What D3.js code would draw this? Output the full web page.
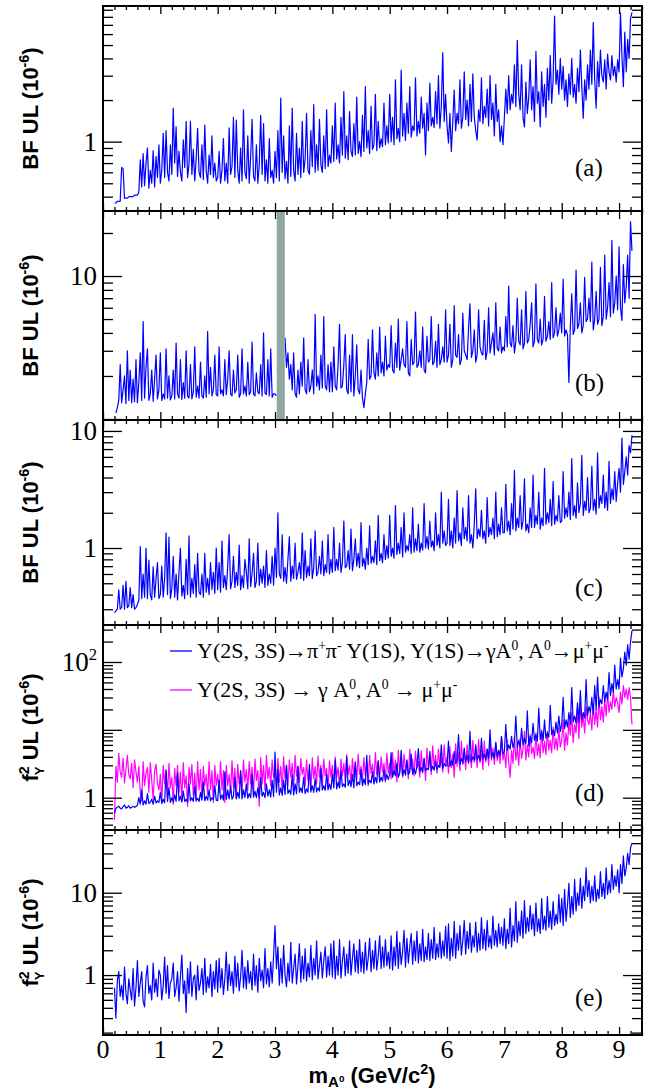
<!DOCTYPE html>
<html lang="en">
<head>
<meta charset="UTF-8">
<title>A0 upper limits vs mass</title>
<script src="https://d3js.org/d3.v7.min.js"></script>
<style>
  body { margin: 0; background: #fff; }
  svg { display: block; }
  .tick-label { font-family: "Liberation Serif", "Times New Roman", serif; font-size: 27px; fill: #000; }
  .xlab { font-size: 26px; }
  .ytitle, .xtitle { font-family: "Liberation Sans", Arial, sans-serif; font-weight: bold; font-size: 22px; fill: #000; }
  .legend { font-family: "Liberation Serif", "Times New Roman", serif; font-size: 22px; fill: #000; }
  .tag { font-family: "Liberation Serif", "Times New Roman", serif; font-size: 25px; fill: #000; }
  .axis line { stroke: #000; stroke-width: 1.3; }
</style>
</head>
<body>
<svg id="chart" width="648" height="1089"></svg>
<script>
// mass grid 0.200 .. 9.225 GeV/c2 in 0.025 steps (362 points)
// rows below: 0.200-0.975 (32 values), then 20 values per half GeV, last row 9.000-9.225 (10 values)
const masses = d3.range(362).map(i => +(0.2 + 0.025 * i).toFixed(3));

// (a) BF UL, 10^-6
const bfA = [
  0.36, 0.36, 0.37, 0.37, 0.37, 0.65, 0.64, 0.39, 0.39, 0.39, 0.40, 0.40, 0.40, 0.40, 0.41, 0.41,
  0.41, 0.43, 0.74, 0.47, 0.82, 0.48, 0.70, 0.90, 0.46, 0.62, 0.50, 0.86, 0.47, 0.78, 0.55, 0.95,
  0.50, 0.62, 1.15, 0.55, 1.20, 0.60, 0.52, 0.95, 0.58, 1.75, 0.70, 1.28, 0.56, 0.85, 0.60, 0.52, 1.03, 0.65, 1.40, 0.55,
  0.68, 1.40, 0.58, 0.88, 0.52, 0.75, 1.25, 0.60, 0.55, 0.95, 0.53, 1.32, 0.62, 0.50, 0.80, 0.58, 1.10, 0.55, 0.70, 0.52,
  0.55, 0.85, 0.50, 0.62, 1.05, 0.52, 0.70, 0.50, 1.26, 0.58, 0.66, 1.50, 0.55, 1.43, 0.62, 0.50, 0.90, 0.52, 1.70, 0.60,
  0.54, 1.10, 0.50, 0.78, 1.45, 0.56, 0.52, 0.95, 0.50, 0.68, 1.55, 0.58, 1.35, 0.52, 0.74, 0.50, 1.05, 0.55, 0.62, 0.50,
  0.85, 0.55, 1.20, 0.52, 2.07, 0.60, 1.10, 0.54, 0.72, 0.50, 1.30, 0.56, 1.75, 0.62, 0.52, 1.15, 0.58, 0.90, 0.55, 1.40,
  0.60, 0.75, 1.60, 0.62, 0.58, 1.20, 0.66, 1.85, 0.60, 0.95, 0.62, 1.45, 0.68, 0.60, 1.10, 0.64, 1.70, 0.66, 0.80, 0.70,
  1.30, 0.72, 1.90, 0.75, 0.95, 0.70, 1.50, 0.80, 2.30, 0.76, 1.10, 0.74, 1.65, 0.85, 0.78, 1.35, 0.80, 2.10, 0.82, 1.00,
  0.78, 1.55, 0.85, 2.50, 0.90, 1.20, 0.82, 1.80, 0.88, 0.95, 2.20, 0.86, 1.40, 0.90, 1.05, 0.92, 1.90, 0.95, 1.30, 0.98,
  2.20, 1.00, 1.50, 0.95, 2.80, 1.05, 1.25, 1.00, 3.30, 1.10, 1.60, 1.02, 1.90, 1.15, 2.50, 1.08, 1.30, 1.20, 2.90, 1.10,
  1.40, 1.15, 2.10, 1.25, 1.60, 0.80, 1.90, 1.20, 2.65, 1.30, 1.50, 1.27, 2.30, 1.35, 3.00, 1.25, 1.80, 4.40, 1.40, 2.20,
  1.30, 0.98, 1.60, 0.85, 1.40, 2.36, 1.20, 1.60, 1.35, 2.80, 1.25, 1.50, 3.20, 1.45, 2.00, 1.30, 2.60, 1.40, 3.10, 1.50,
  1.20, 1.03, 1.70, 1.40, 2.90, 1.35, 1.80, 1.50, 2.40, 1.30, 3.00, 1.45, 1.90, 1.10, 2.60, 1.40, 1.70, 1.00, 1.30, 0.95,
  1.50, 2.40, 1.60, 3.00, 1.70, 2.20, 1.90, 3.60, 1.80, 5.40, 2.20, 1.70, 3.60, 1.50, 1.28, 2.70, 1.60, 2.10, 3.90, 1.70,
  2.50, 1.40, 4.50, 1.90, 2.30, 1.28, 3.20, 1.80, 2.60, 1.50, 3.40, 2.00, 4.20, 1.90, 2.80, 8.10, 2.60, 3.30, 2.20, 4.00,
  2.40, 3.50, 2.00, 2.80, 1.80, 3.10, 2.20, 4.00, 2.10, 2.60, 1.90, 3.40, 2.30, 4.60, 2.50, 1.48, 2.80, 2.00, 3.60, 2.40,
  4.60, 2.60, 7.30, 2.80, 1.75, 3.80, 2.50, 4.60, 3.00, 2.70, 3.90, 2.40, 4.30, 3.20, 2.80, 4.20, 3.00, 3.50, 2.70, 3.90,
  3.20, 8.50, 4.20, 2.50, 6.20, 3.20, 5.50, 4.00, 7.80, 8.60
];

// (b) BF UL, 10^-6 (J/psi region vetoed)
const bfB = [
  null, 1.10, 1.20, 1.35, 2.40, 1.30, 1.60, 2.00, 1.28, 3.00, 1.35, 2.20, 1.30, 1.90, 1.32, 2.60,
  1.30, 1.80, 2.90, 1.35, 4.80, 1.40, 2.30, 3.10, 1.35, 1.50, 2.20, 1.33, 1.90, 2.80, 1.38, 1.60,
  2.90, 1.35, 1.50, 1.38, 3.10, 1.40, 2.00, 1.36, 1.45, 2.20, 1.38, 3.40, 1.50, 1.40, 2.60, 1.37, 1.80, 1.40, 3.00, 1.45,
  1.40, 2.40, 1.38, 1.55, 3.20, 1.42, 1.70, 1.40, 2.50, 1.45, 1.40, 2.00, 1.42, 4.10, 1.50, 2.30, 1.45, 1.60, 2.80, 1.48,
  1.45, 3.20, 1.50, 1.60, 1.45, 2.60, 1.48, 1.90, 3.00, 1.50, 1.45, 2.20, 1.52, 1.60, 2.80, 1.42, 1.50, 3.10, 1.50, 1.70,
  1.45, 2.50, 1.48, 1.55, 3.45, 1.50, 1.45, 2.10, 1.55, 1.50, 2.40, 1.45, 4.00, 1.52, 1.48, 2.60, 1.45, 3.10, 1.42, 1.50,
  1.50, 1.45, null, null, null, null, null, 3.70, 2.30, 2.90, 1.90, 2.40, 1.60, 2.90, 1.50, 1.42, 2.20, 1.50, 2.50, 1.70,
  3.70, 1.60, 1.50, 2.60, 1.55, 1.70, 2.20, 1.50, 5.40, 1.70, 2.00, 1.60, 2.80, 1.65, 5.20, 1.70, 1.60, 2.40, 1.55, 2.50,
  1.55, 3.20, 1.70, 1.60, 2.40, 4.60, 1.65, 1.70, 2.40, 3.90, 1.60, 1.50, 2.80, 1.55, 3.90, 1.45, 2.00, 3.30, 1.60, 1.50,
  2.20, 1.40, 1.20, 1.50, 1.80, 3.60, 1.90, 2.00, 4.20, 2.10, 1.90, 2.90, 2.00, 4.40, 2.10, 2.50, 2.00, 3.80, 2.20, 2.40,
  2.30, 4.50, 2.20, 2.10, 3.40, 2.30, 5.00, 2.20, 2.60, 3.10, 2.40, 2.30, 4.80, 2.10, 2.00, 3.60, 2.40, 2.50, 5.60, 2.30,
  2.40, 3.00, 2.30, 4.40, 2.20, 2.10, 3.80, 2.50, 2.60, 5.20, 2.40, 2.50, 3.50, 2.30, 4.60, 2.40, 2.60, 3.20, 2.50, 5.80,
  2.50, 2.80, 4.60, 2.30, 2.60, 6.20, 2.80, 2.70, 3.90, 2.40, 2.60, 5.50, 3.00, 2.80, 2.60, 4.30, 6.40, 2.70, 3.00, 4.20,
  2.50, 2.80, 5.80, 3.20, 2.90, 2.80, 4.90, 2.60, 3.00, 6.00, 2.90, 3.40, 4.00, 2.80, 6.50, 3.10, 3.00, 4.40, 2.90, 3.20,
  3.00, 5.20, 3.20, 8.50, 3.40, 3.20, 4.50, 2.90, 3.50, 7.00, 3.50, 3.30, 5.80, 3.10, 3.40, 7.80, 3.40, 3.60, 4.60, 6.50,
  3.20, 3.50, 8.80, 3.60, 3.40, 5.00, 3.30, 3.60, 7.20, 3.50, 3.80, 4.80, 3.60, 9.00, 3.70, 4.00, 6.00, 3.80, 4.20, 5.50,
  4.00, 9.50, 3.80, 4.20, 3.90, 1.80, 4.40, 7.50, 3.90, 4.20, 11.0, 4.30, 4.60, 6.50, 4.00, 4.50, 9.80, 4.80, 5.00, 7.00,
  4.80, 12.5, 4.20, 5.00, 7.80, 4.60, 5.00, 11.5, 4.50, 5.20, 14.0, 5.00, 6.00, 9.00, 5.20, 17.8, 5.50, 6.50, 10.0, 5.80,
  16.0, 6.00, 4.90, 12.0, 6.50, 8.50, 14.0, 7.00, 24.0, 15.0
];

// (c) BF UL, 10^-6
const bfC = [
  0.28, 0.29, 0.30, 0.44, 0.30, 0.31, 0.48, 0.30, 0.52, 0.31, 0.32, 0.46, 0.31, 0.40, 0.30, 0.31,
  0.33, 0.36, 1.03, 0.37, 0.60, 0.38, 1.00, 0.37, 0.79, 0.40, 0.36, 0.69, 0.38, 0.55, 0.75, 0.37,
  0.40, 0.70, 0.38, 0.55, 1.35, 0.40, 1.24, 0.37, 0.45, 0.85, 0.38, 0.60, 0.36, 0.62, 1.00, 0.39, 0.48, 0.37, 0.80, 0.40,
  1.27, 0.38, 0.55, 0.41, 0.72, 0.38, 0.90, 0.42, 0.40, 0.60, 0.38, 0.90, 0.42, 0.55, 0.40, 0.75, 0.44, 0.62, 0.41, 1.00,
  0.44, 0.75, 0.42, 1.15, 0.46, 0.58, 0.44, 0.70, 1.30, 0.45, 0.52, 0.85, 0.46, 0.62, 0.48, 1.06, 0.44, 0.58, 0.46, 0.80,
  0.62, 0.45, 1.20, 0.47, 0.60, 0.90, 0.46, 0.52, 1.10, 0.48, 0.66, 0.50, 0.70, 0.46, 0.95, 0.48, 0.60, 0.50, 0.85, 0.48,
  1.00, 0.56, 2.00, 0.60, 0.55, 1.30, 0.52, 0.68, 0.50, 0.80, 1.25, 0.52, 0.70, 0.55, 1.10, 0.54, 0.62, 0.75, 0.55, 1.35,
  0.53, 0.95, 0.56, 0.70, 0.58, 1.20, 0.55, 0.68, 1.40, 0.58, 0.62, 0.85, 0.60, 1.15, 0.58, 0.72, 0.62, 1.30, 0.60, 0.80,
  0.62, 1.50, 0.64, 0.80, 0.65, 1.10, 0.62, 0.75, 1.70, 0.68, 0.70, 0.95, 0.66, 1.45, 0.64, 0.80, 1.20, 0.70, 0.90, 0.68,
  1.65, 0.70, 0.82, 0.66, 1.00, 0.72, 1.55, 0.74, 0.85, 0.75, 1.15, 0.72, 1.90, 0.78, 0.90, 0.75, 1.30, 0.80, 1.05, 0.82,
  1.90, 0.85, 1.00, 0.82, 2.30, 0.88, 1.10, 0.90, 1.50, 0.84, 2.00, 0.92, 1.05, 0.95, 1.30, 0.90, 2.20, 0.92, 1.20, 0.95,
  1.60, 0.92, 1.10, 0.96, 2.40, 1.00, 1.25, 0.98, 1.70, 1.02, 1.15, 0.95, 2.00, 1.05, 1.30, 1.00, 3.00, 1.10, 1.40, 1.05,
  1.10, 2.60, 1.05, 1.40, 1.00, 1.80, 1.10, 3.10, 1.15, 1.35, 1.05, 2.20, 1.20, 1.50, 1.15, 2.80, 1.10, 1.30, 1.00, 1.60,
  3.20, 1.20, 1.45, 1.25, 2.10, 1.20, 1.40, 1.10, 2.70, 1.25, 1.50, 1.30, 1.80, 1.20, 3.00, 1.25, 1.60, 1.30, 2.20, 1.35,
  1.35, 3.50, 1.40, 1.70, 1.30, 2.40, 1.45, 4.60, 1.40, 1.80, 1.50, 2.80, 1.45, 1.70, 3.90, 1.40, 1.60, 1.35, 2.20, 1.50,
  4.20, 1.50, 1.90, 1.60, 3.00, 1.45, 1.80, 1.55, 4.80, 1.60, 2.00, 1.65, 2.60, 1.55, 3.70, 1.60, 1.90, 1.70, 2.80, 1.65,
  1.70, 4.50, 1.80, 2.20, 1.85, 3.00, 1.75, 5.80, 1.90, 2.30, 1.80, 3.60, 2.00, 2.40, 6.20, 1.90, 2.50, 2.10, 4.00, 2.00,
  2.20, 5.00, 2.10, 2.60, 1.95, 6.50, 2.20, 2.80, 2.40, 4.20, 2.20, 3.00, 2.10, 5.50, 2.40, 3.20, 2.60, 4.50, 2.50, 3.60,
  4.80, 3.00, 8.70, 3.50, 4.50, 6.00, 4.20, 7.50, 6.50, 9.20
];

// (d) f^2 UL, 10^-6 : this analysis (blue) and the direct Y(2S,3S) -> gamma A0 search (pink)
const fBlue = [
  0.59, 0.70, 0.72, 0.75, 0.70, 0.68, 0.74, 0.78, 0.70, 0.72, 0.76, 0.70, 0.72, 0.75, 0.72, 0.74,
  0.78, 1.00, 0.80, 1.30, 0.78, 0.90, 0.80, 1.15, 0.82, 0.86, 0.95, 0.80, 1.05, 0.84, 0.90, 0.85,
  1.20, 0.82, 0.95, 0.84, 2.50, 0.88, 1.40, 0.85, 1.00, 0.86, 1.10, 0.88, 2.30, 0.90, 1.05, 0.86, 1.25, 0.88, 0.95, 0.86,
  1.60, 0.90, 1.00, 0.88, 1.45, 0.90, 0.98, 0.88, 1.20, 0.92, 1.70, 0.90, 1.05, 0.92, 1.30, 0.90, 1.00, 0.94, 1.50, 0.92,
  0.90, 1.80, 0.95, 1.10, 0.92, 2.40, 0.94, 1.30, 0.96, 1.50, 0.95, 1.05, 2.00, 0.96, 1.20, 0.98, 2.50, 0.96, 1.30, 1.00,
  1.60, 0.98, 1.15, 1.00, 2.20, 1.02, 1.25, 1.00, 1.40, 0.98, 2.00, 1.05, 1.20, 1.00, 1.60, 1.05, 1.30, 1.02, 1.80, 1.04,
  4.70, 1.20, 2.60, 1.10, 1.40, 1.08, 1.80, 1.12, 3.00, 1.15, 1.30, 1.12, 2.20, 1.10, 1.60, 1.15, 2.90, 1.20, 1.40, 1.18,
  2.00, 1.15, 1.35, 1.20, 3.10, 1.25, 1.50, 1.20, 1.90, 1.22, 1.40, 1.25, 2.70, 1.30, 1.50, 1.28, 2.20, 1.30, 1.60, 1.32,
  2.20, 1.40, 3.60, 1.35, 1.70, 1.40, 2.50, 1.45, 1.60, 1.42, 4.00, 1.50, 1.80, 1.45, 2.20, 1.40, 3.30, 1.50, 1.70, 1.55,
  2.60, 1.50, 1.90, 1.55, 4.20, 1.60, 1.80, 1.65, 2.40, 1.60, 2.00, 1.65, 3.50, 1.70, 2.00, 1.75, 2.60, 1.80, 2.20, 1.85,
  2.20, 4.60, 2.00, 2.50, 2.10, 3.20, 2.00, 2.30, 5.00, 2.10, 2.60, 2.15, 3.60, 2.20, 2.40, 4.40, 2.20, 2.70, 2.25, 2.90,
  5.30, 2.40, 2.80, 2.35, 3.80, 2.50, 2.70, 2.60, 4.80, 2.50, 2.90, 2.55, 3.40, 2.60, 3.00, 2.80, 6.00, 2.70, 3.20, 2.90,
  3.00, 6.80, 2.90, 3.50, 3.00, 4.80, 3.20, 3.60, 8.50, 3.10, 3.80, 3.20, 5.40, 3.40, 4.20, 3.30, 9.50, 3.40, 4.00, 3.60,
  6.00, 3.60, 4.20, 3.50, 7.50, 3.70, 4.40, 3.60, 5.20, 3.80, 10.0, 3.90, 4.60, 3.80, 6.50, 4.00, 5.00, 4.20, 8.00, 4.40,
  4.80, 12.0, 5.00, 6.00, 5.20, 8.00, 5.50, 6.50, 16.0, 5.40, 7.00, 5.60, 10.5, 6.00, 7.50, 6.20, 19.0, 5.80, 8.00, 6.40,
  12.5, 7.00, 8.50, 6.80, 21.0, 7.20, 9.50, 7.00, 14.0, 7.50, 9.00, 7.80, 23.0, 8.50, 10.0, 8.20, 13.0, 9.00, 16.0, 9.50,
  12.0, 30.0, 10.5, 14.0, 11.0, 18.0, 12.0, 42.0, 13.0, 16.0, 12.5, 25.0, 13.0, 38.0, 14.0, 18.0, 15.0, 55.0, 16.0, 22.0,
  18.0, 30.0, 17.0, 45.0, 20.0, 60.0, 22.0, 28.0, 24.0, 45.0, 26.0, 36.0, 28.0, 70.0, 32.0, 48.0, 36.0, 90.0, 40.0, 55.0,
  40.0, 114, 60.0, 80.0, 140, 90.0, 180, 110, 200, 290
];
const fPink = [
  0.47, 2.90, 1.70, 4.50, 2.40, 2.00, 3.80, 1.65, 2.60, 4.20, 2.20, 1.90, 3.20, 1.40, 3.60, 2.40,
  1.70, 2.90, 1.20, 0.90, 3.40, 1.50, 2.30, 2.80, 1.20, 3.30, 1.80, 0.95, 2.50, 3.10, 1.60, 1.30,
  2.20, 0.85, 3.00, 1.60, 2.60, 1.10, 3.20, 1.40, 2.00, 0.80, 2.70, 1.50, 3.00, 1.20, 2.40, 0.90, 3.30, 1.40, 2.10, 0.75,
  2.80, 1.60, 3.10, 1.10, 2.30, 0.90, 3.40, 1.30, 2.60, 1.00, 2.90, 1.50, 2.20, 1.10, 3.40, 1.30, 2.50, 0.85, 3.00, 1.50,
  2.20, 1.20, 3.40, 1.30, 2.50, 0.85, 3.00, 1.50, 2.20, 1.20, 3.50, 1.40, 2.70, 1.00, 3.10, 1.60, 2.40, 1.20, 3.60, 1.70,
  2.60, 1.30, 3.40, 1.60, 2.80, 1.10, 3.70, 1.80, 2.50, 0.75, 3.90, 1.60, 3.00, 1.30, 4.20, 1.90, 2.80, 1.50, 3.60, 2.00,
  2.60, 1.40, 3.80, 1.70, 2.90, 1.30, 4.00, 1.90, 3.00, 1.50, 3.60, 2.00, 3.20, 1.40, 4.20, 2.10, 2.90, 1.70, 3.80, 2.20,
  2.80, 1.50, 3.60, 1.80, 2.60, 1.20, 3.90, 1.90, 2.90, 1.60, 4.10, 2.00, 3.00, 1.50, 3.70, 2.10, 2.70, 1.40, 3.50, 2.00,
  3.00, 1.60, 4.00, 2.00, 2.80, 1.40, 3.70, 2.10, 3.20, 1.70, 4.30, 2.20, 3.00, 1.60, 3.80, 2.00, 3.40, 1.80, 4.40, 2.20,
  2.90, 1.70, 3.90, 2.10, 3.20, 1.50, 4.20, 2.30, 3.10, 1.80, 4.60, 2.20, 3.50, 1.90, 4.00, 2.40, 3.20, 1.70, 4.50, 2.30,
  3.20, 1.90, 4.60, 2.30, 3.60, 1.70, 5.00, 2.40, 3.80, 2.00, 4.40, 2.50, 3.50, 1.90, 5.20, 2.60, 3.70, 2.10, 4.80, 2.70,
  3.40, 2.00, 4.90, 2.50, 3.80, 1.80, 5.40, 2.60, 4.00, 2.20, 5.80, 2.80, 4.20, 2.30, 5.20, 2.90, 3.90, 2.40, 6.00, 3.00,
  4.00, 2.30, 5.60, 2.80, 4.40, 2.00, 6.20, 2.90, 4.60, 2.50, 6.80, 3.10, 4.80, 2.60, 6.00, 3.20, 4.30, 2.80, 7.00, 3.30,
  4.60, 2.80, 7.20, 3.30, 5.00, 2.60, 6.80, 3.40, 5.20, 3.00, 7.50, 3.60, 5.40, 3.10, 6.60, 3.50, 5.00, 3.20, 7.80, 3.60,
  4.60, 2.80, 7.20, 3.30, 2.00, 5.00, 3.20, 8.00, 3.60, 5.50, 3.00, 7.50, 3.80, 5.20, 9.50, 3.60, 6.00, 4.00, 8.50, 4.50,
  5.50, 3.80, 9.00, 4.20, 6.20, 3.90, 10.0, 4.60, 6.80, 4.30, 9.50, 5.00, 7.00, 4.60, 11.0, 5.20, 7.50, 5.00, 10.5, 5.60,
  7.00, 14.0, 5.00, 9.00, 6.00, 13.0, 8.40, 18.0, 6.50, 12.0, 9.00, 21.0, 7.50, 25.0, 11.0, 16.0, 9.00, 22.0, 14.0, 12.0,
  18.0, 10.0, 24.0, 12.0, 20.0, 11.0, 30.0, 14.0, 22.0, 13.0, 28.0, 16.0, 35.0, 18.0, 26.0, 20.0, 38.0, 22.0, 30.0, 25.0,
  18.0, 36.0, 24.0, 45.0, 30.0, 40.0, 28.0, 42.0, 30.0, 12.0
];

// (e) f^2 UL, 10^-6
const fE = [
  0.70, 0.30, 0.85, 1.10, 0.55, 0.75, 0.50, 1.25, 0.60, 0.45, 0.90, 0.65, 0.50, 1.20, 0.42, 0.70,
  1.50, 0.55, 0.80, 1.10, 0.48, 0.41, 0.95, 1.30, 0.60, 0.75, 0.50, 1.40, 0.62, 0.90, 0.55, 1.15,
  1.00, 0.50, 0.75, 1.65, 0.60, 1.30, 0.52, 0.80, 0.90, 1.40, 0.55, 0.70, 1.10, 0.48, 0.95, 1.75, 0.60, 0.85, 0.35, 1.20,
  0.60, 1.45, 0.55, 0.90, 1.00, 0.50, 1.30, 0.65, 0.80, 1.20, 0.58, 1.60, 0.62, 0.95, 0.70, 1.35, 0.55, 1.10, 0.68, 1.50,
  0.62, 1.60, 0.70, 1.20, 0.58, 0.90, 1.90, 0.65, 1.35, 0.75, 1.10, 0.60, 1.70, 0.72, 1.40, 0.64, 0.95, 2.00, 0.70, 1.25,
  0.68, 1.50, 0.80, 1.10, 0.66, 1.80, 0.75, 1.30, 0.62, 1.60, 0.85, 1.15, 0.70, 2.10, 0.78, 1.20, 0.72, 1.45, 0.80, 1.70,
  4.00, 1.20, 2.20, 0.75, 1.60, 0.80, 2.30, 1.00, 0.72, 1.40, 0.85, 2.50, 0.80, 1.20, 1.80, 0.78, 1.30, 2.40, 0.82, 1.70,
  0.90, 2.10, 0.85, 1.40, 0.95, 2.30, 0.88, 1.60, 1.00, 2.60, 0.90, 1.30, 1.90, 0.92, 1.50, 2.20, 0.95, 1.70, 1.00, 2.40,
  0.95, 2.60, 0.90, 1.70, 1.00, 2.70, 0.92, 1.50, 2.20, 0.98, 1.80, 1.05, 2.60, 1.00, 1.60, 2.40, 1.10, 2.00, 1.05, 2.70,
  1.10, 1.90, 1.05, 2.50, 1.15, 1.60, 2.80, 1.10, 2.00, 1.20, 2.60, 1.15, 1.70, 3.00, 1.20, 2.20, 1.25, 2.70, 1.30, 1.90,
  1.20, 3.00, 1.15, 2.20, 1.30, 3.40, 1.20, 2.50, 1.35, 1.90, 3.50, 1.25, 2.80, 1.40, 2.20, 3.20, 1.35, 2.60, 1.50, 3.40,
  1.40, 2.40, 1.50, 3.60, 1.45, 2.20, 1.55, 3.20, 1.50, 2.70, 1.60, 3.80, 1.55, 2.40, 1.65, 3.30, 1.60, 2.60, 1.70, 3.90,
  1.60, 4.20, 1.50, 2.80, 1.70, 4.50, 1.60, 3.20, 2.00, 4.00, 1.75, 2.60, 4.60, 1.80, 3.40, 2.10, 4.30, 1.90, 3.00, 2.20,
  4.40, 1.90, 3.20, 2.00, 5.00, 2.10, 3.60, 2.00, 4.60, 2.20, 3.00, 2.10, 5.20, 2.30, 3.50, 2.20, 4.20, 2.40, 3.80, 2.30,
  4.80, 2.10, 3.60, 2.40, 6.50, 2.20, 4.00, 2.60, 7.80, 2.50, 4.50, 3.00, 6.00, 2.80, 8.00, 3.20, 5.00, 3.40, 7.00, 3.60,
  5.50, 3.00, 7.50, 3.40, 4.80, 3.20, 8.50, 3.60, 5.20, 3.50, 9.00, 3.80, 6.00, 3.60, 7.80, 4.00, 5.50, 4.20, 9.50, 4.40,
  8.50, 4.00, 11.0, 4.50, 7.00, 13.0, 5.00, 9.00, 5.50, 14.5, 6.00, 10.0, 7.00, 15.0, 6.50, 12.0, 8.00, 20.0, 9.00, 14.0,
  7.50, 12.0, 8.00, 16.0, 7.80, 11.0, 8.50, 18.0, 9.00, 13.0, 8.50, 20.0, 9.50, 14.0, 10.0, 22.0, 11.0, 16.0, 12.0, 19.0,
  10.0, 22.0, 13.0, 28.0, 16.0, 20.0, 30.0, 22.0, 35.0, 40.0
];

const xTicks = [0, 1, 2, 3, 4, 5, 6, 7, 8, 9];
const vetoBand = [3.03, 3.17];   // J/psi veto in (b)
const blue = "#0000ff", pink = "#ff00ff";

const panels = [
  { top: 6,   bottom: 211,  domain: [0.315, 9.58], labels: [[1, "1"]],                series: [[bfA, blue]],   tag: "(a)", tagY: 176, title: "bf" },
  { top: 211, bottom: 420,  domain: [0.984, 28.5], labels: [[10, "10"]],              series: [[bfB, blue]],   tag: "(b)", tagY: 391, title: "bf", band: true },
  { top: 420, bottom: 625,  domain: [0.22, 12.4],  labels: [[1, "1"], [10, "10"]],    series: [[bfC, blue]],   tag: "(c)", tagY: 596, title: "bf" },
  { top: 625, bottom: 830,  domain: [0.334, 351],  labels: [[1, "1"], [100, "10^2"]], series: [[fPink, pink], [fBlue, blue]], tag: "(d)", tagY: 801, title: "f" },
  { top: 830, bottom: 1035, domain: [0.187, 57.8], labels: [[1, "1"], [10, "10"]],    series: [[fE, blue]],    tag: "(e)", tagY: 1006, title: "f" }
];

const svg = d3.select("#chart");
const left = 103, right = 642;
const x = d3.scaleLinear().domain([0, 9.4]).range([left, right]);

// text with raised / lowered pieces: [text, offsetPx, sizeFactor, dx]
function rich(sel, parts, size) {
  let cur = 0;
  parts.forEach(([t, off, f, dx]) => {
    const ts = sel.append("tspan").text(t)
      .attr("dy", off - cur)
      .style("font-size", (size * (f || 1)) + "px");
    if (dx) ts.attr("dx", dx);
    cur = off;
  });
}

function logTicks(dom) {
  const out = [];
  for (let e = Math.floor(Math.log10(dom[0])); e <= Math.ceil(Math.log10(dom[1])); e++) {
    for (let k = 1; k <= 9; k++) {
      const v = k * Math.pow(10, e);
      if (v >= dom[0] && v <= dom[1]) out.push({ v: v, major: k === 1 });
    }
  }
  return out;
}

const xMinor = d3.range(0, 48).map(i => +(i * 0.2).toFixed(1))
  .filter(v => v <= 9.4 && Math.abs(v - Math.round(v)) > 0.01);

panels.forEach((p, i) => {
  const y = d3.scaleLog().domain(p.domain).range([p.bottom, p.top]);
  const g = svg.append("g");
  const clipId = "clip" + i;
  svg.append("clipPath").attr("id", clipId)
    .append("rect").attr("x", left).attr("y", p.top).attr("width", right - left).attr("height", p.bottom - p.top);

  const line = d3.line()
    .defined(d => d != null)
    .x((d, j) => x(masses[j]))
    .y(d => y(d));

  const plot = g.append("g").attr("clip-path", `url(#${clipId})`);
  p.series.forEach(([vals, col]) => {
    plot.append("path")
      .datum(vals)
      .attr("d", line)
      .attr("fill", "none")
      .attr("stroke", col)
      .attr("stroke-width", 1.2)
      .attr("stroke-linejoin", "round");
  });

  if (p.band) {
    plot.append("rect")
      .attr("x", x(vetoBand[0])).attr("y", p.top)
      .attr("width", x(vetoBand[1]) - x(vetoBand[0])).attr("height", p.bottom - p.top)
      .attr("fill", "#8ea89f");
  }

  // y ticks on both sides, pointing inward
  const lt = logTicks(p.domain);
  const major = lt.filter(d => d.major).map(d => d.v);
  const minor = lt.filter(d => !d.major).map(d => d.v);
  [[d3.axisLeft, left], [d3.axisRight, right]].forEach(([ax, xp]) => {
    g.append("g").attr("class", "axis").attr("transform", `translate(${xp},0)`)
      .call(ax(y).tickValues(major).tickSize(-19).tickFormat(""))
      .call(s => s.select(".domain").remove());
    g.append("g").attr("class", "axis").attr("transform", `translate(${xp},0)`)
      .call(ax(y).tickValues(minor).tickSize(-10).tickFormat(""))
      .call(s => s.select(".domain").remove());
  });

  // x ticks top and bottom, pointing inward
  [[d3.axisBottom, p.bottom], [d3.axisTop, p.top]].forEach(([ax, yp]) => {
    g.append("g").attr("class", "axis").attr("transform", `translate(0,${yp})`)
      .call(ax(x).tickValues(xTicks).tickSize(-8).tickFormat(""))
      .call(s => s.select(".domain").remove());
    g.append("g").attr("class", "axis").attr("transform", `translate(0,${yp})`)
      .call(ax(x).tickValues(xMinor).tickSize(-4).tickFormat(""))
      .call(s => s.select(".domain").remove());
  });

  // frame
  g.append("rect")
    .attr("x", left).attr("y", p.top)
    .attr("width", right - left).attr("height", p.bottom - p.top)
    .attr("fill", "none").attr("stroke", "#000").attr("stroke-width", 2);

  // y tick labels
  p.labels.forEach(([v, txt]) => {
    const t = g.append("text").attr("class", "tick-label")
      .attr("x", 97).attr("y", y(v) + 9).attr("text-anchor", "end");
    if (txt.includes("^")) {
      const [b, s] = txt.split("^");
      rich(t, [[b, 0, 1], [s, -11, 0.62]], 27);
    } else t.text(txt);
  });

  // y title
  const ty = g.append("text").attr("class", "ytitle")
    .attr("text-anchor", "middle")
    .attr("transform", `translate(38,${(p.top + p.bottom) / 2}) rotate(-90)`);
  if (p.title === "bf") {
    rich(ty, [["BF UL (10", 0, 1], ["-6", -9, 0.65], [")", 0, 1]], 22);
  } else {
    rich(ty, [["f", 0, 1], ["2", -9, 0.65], ["\u03A5", 6, 0.6, -9], [" UL (10", 0, 1], ["-6", -9, 0.65], [")", 0, 1]], 22);
  }

  g.append("text").attr("class", "tag").attr("x", 575).attr("y", p.tagY).text(p.tag);
});

// legend inside (d)
const legendRows = [
  { col: blue, y: 651, parts: [["\u03A5(2S, 3S)\u2192\u03C0", 0], ["+", -8, 0.62], ["\u03C0", 0], ["-", -8, 0.62],
      [" \u03A5(1S), \u03A5(1S)\u2192\u03B3A", 0], ["0", -8, 0.62], [", A", 0], ["0", -8, 0.62],
      ["\u2192\u03BC", 0], ["+", -8, 0.62], ["\u03BC", 0], ["-", -8, 0.62]] },
  { col: pink, y: 690, parts: [["\u03A5(2S, 3S) \u2192 \u03B3 A", 0], ["0", -8, 0.62], [", A", 0], ["0", -8, 0.62],
      [" \u2192 \u03BC", 0], ["+", -8, 0.62], ["\u03BC", 0], ["-", -8, 0.62]] }
];
legendRows.forEach(r => {
  svg.append("line").attr("x1", 170).attr("x2", 192).attr("y1", r.y).attr("y2", r.y)
    .attr("stroke", r.col).attr("stroke-width", 1.3);
  const t = svg.append("text").attr("class", "legend").attr("x", 197).attr("y", r.y + 7);
  rich(t, r.parts, 22);
});

// x tick labels and title under the last panel
const last = panels[panels.length - 1];
svg.selectAll(".xlab").data(xTicks).enter().append("text")
  .attr("class", "tick-label xlab")
  .attr("x", d => x(d)).attr("y", last.bottom + 23)
  .attr("text-anchor", "middle")
  .text(d => d);

const xt = svg.append("text").attr("class", "xtitle")
  .attr("x", 372).attr("y", 1083).attr("text-anchor", "middle");
rich(xt, [["m", 0, 1], ["A", 4, 0.68], ["0", -1, 0.45], [" (GeV/c", 0, 1], ["2", -9, 0.65], [")", 0, 1]], 22);
</script>
</body>
</html>
